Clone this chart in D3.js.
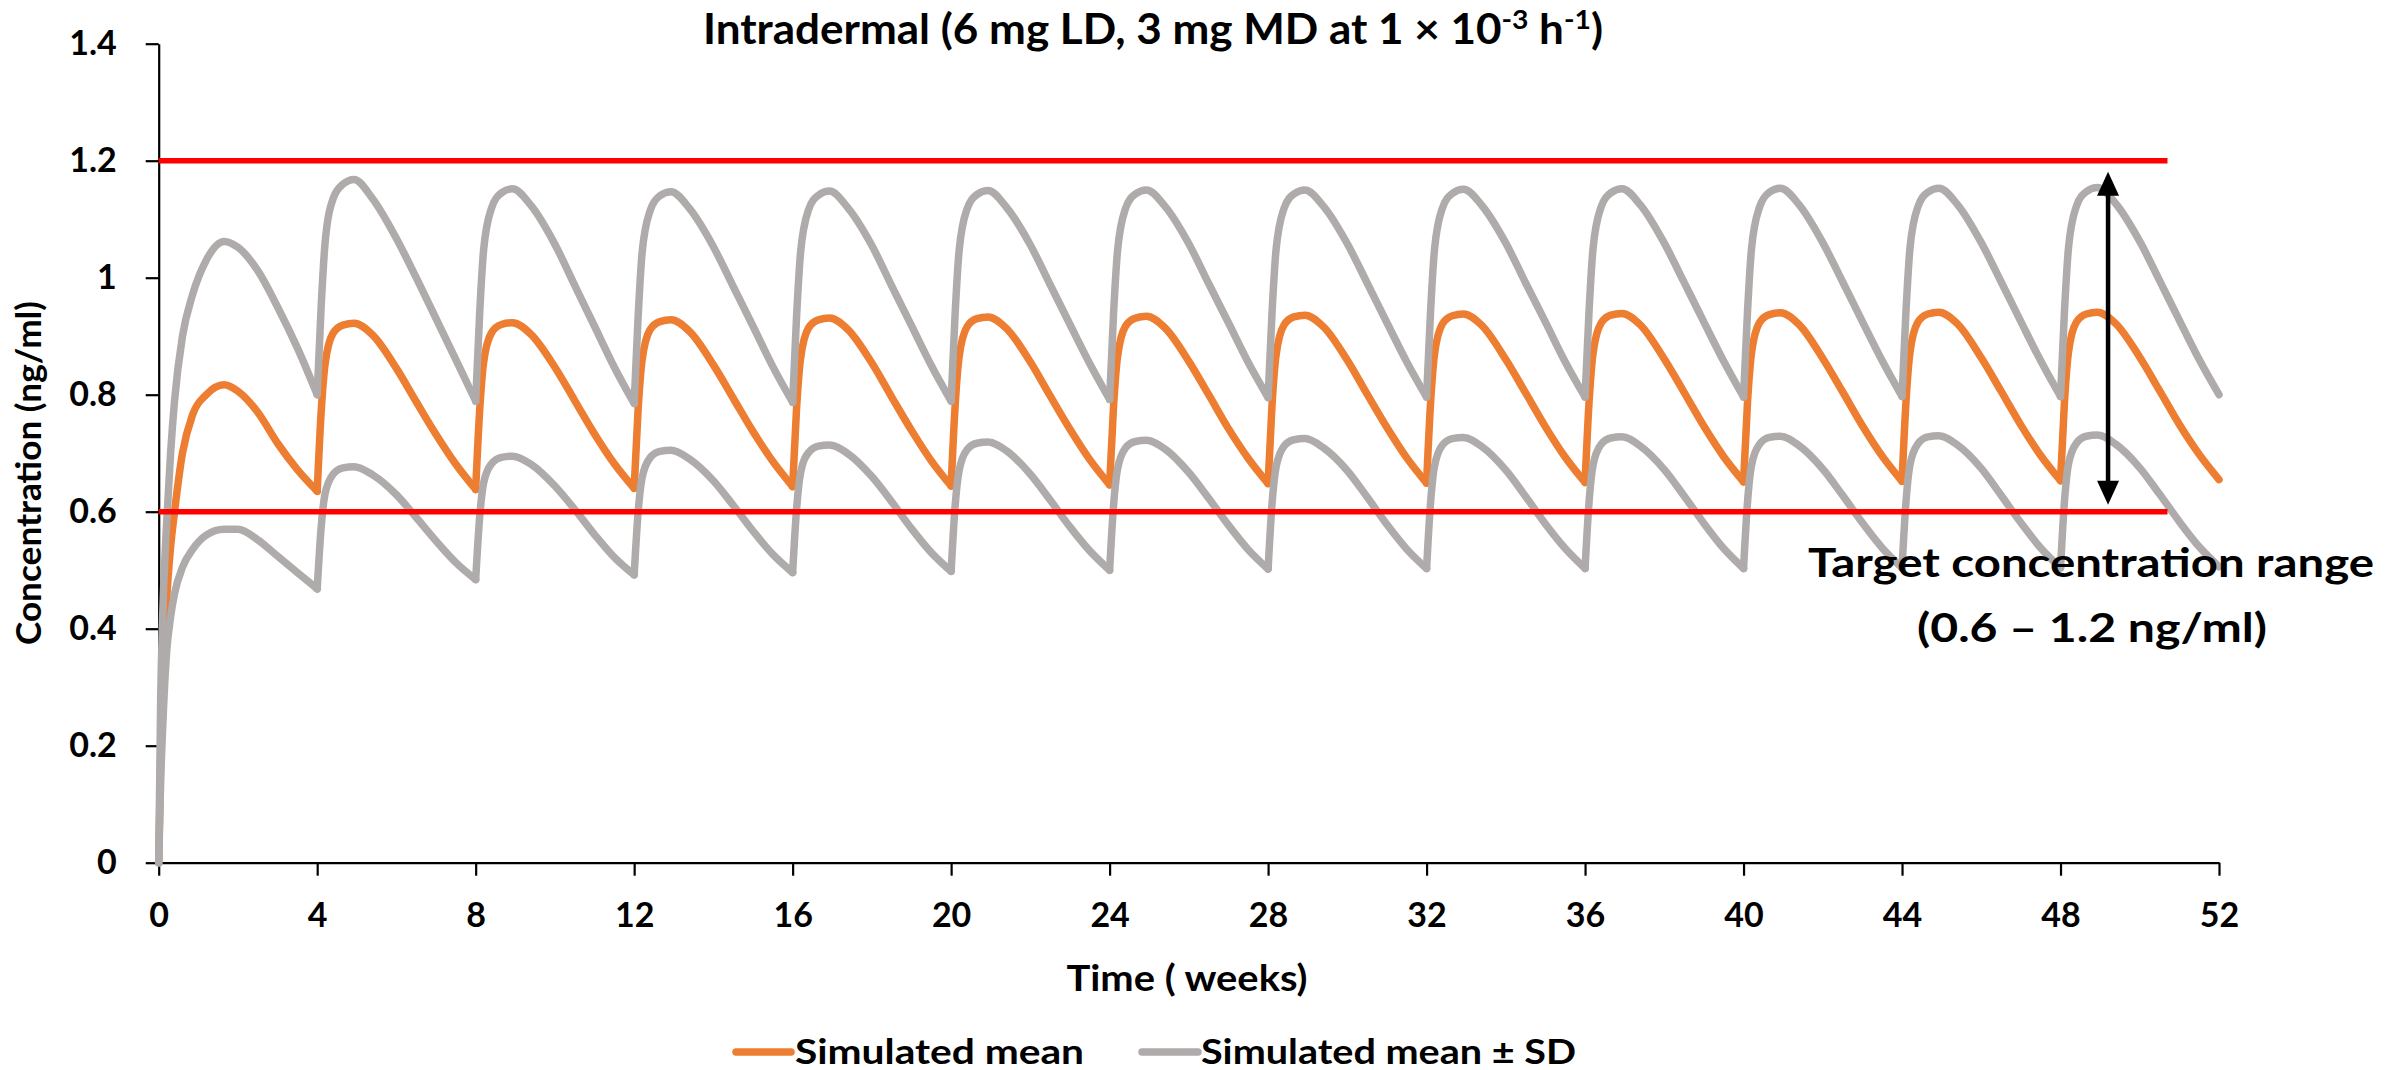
<!DOCTYPE html>
<html lang="en">
<head>
<meta charset="utf-8">
<title>Intradermal simulation</title>
<script src="https://cdn.jsdelivr.net/npm/d3@7"></script>
<style>
  body { margin: 0; background: #fff; }
  svg { display: block; font-family: Lato, 'Open Sans', sans-serif; font-weight: bold; }
</style>
</head>
<body>
<div id="chart"></div>
<script>
// sample times (weeks), one row per dosing interval
const timeWeeks = [
  0, 0.05, 0.1, 0.2, 0.3, 0.4, 0.6, 0.85, 1.2, 1.65, 2, 2.5, 3, 3.5,
  4, 4.1, 4.2, 4.4, 4.65, 4.93, 5.4, 6, 6.5, 7, 7.5,
  8, 8.1, 8.2, 8.4, 8.65, 8.93, 9.4, 10, 10.5, 11, 11.5,
  12, 12.1, 12.2, 12.4, 12.65, 12.93, 13.4, 14, 14.5, 15, 15.5,
  16, 16.1, 16.2, 16.4, 16.65, 16.93, 17.4, 18, 18.5, 19, 19.5,
  20, 20.1, 20.2, 20.4, 20.65, 20.93, 21.4, 22, 22.5, 23, 23.5,
  24, 24.1, 24.2, 24.4, 24.65, 24.93, 25.4, 26, 26.5, 27, 27.5,
  28, 28.1, 28.2, 28.4, 28.65, 28.93, 29.4, 30, 30.5, 31, 31.5,
  32, 32.1, 32.2, 32.4, 32.65, 32.93, 33.4, 34, 34.5, 35, 35.5,
  36, 36.1, 36.2, 36.4, 36.65, 36.93, 37.4, 38, 38.5, 39, 39.5,
  40, 40.1, 40.2, 40.4, 40.65, 40.93, 41.4, 42, 42.5, 43, 43.5,
  44, 44.1, 44.2, 44.4, 44.65, 44.93, 45.4, 46, 46.5, 47, 47.5,
  48, 48.1, 48.2, 48.4, 48.65, 48.93, 49.4, 50, 50.5, 51, 51.5,
  52
];

const meanConc = [
  0, 0.18, 0.30, 0.45, 0.54, 0.60, 0.70, 0.765, 0.80, 0.817, 0.806, 0.77, 0.717, 0.672,
  0.635, 0.770, 0.853, 0.905, 0.919, 0.922, 0.902, 0.845, 0.788, 0.732, 0.681,
  0.638, 0.772, 0.855, 0.906, 0.920, 0.923, 0.903, 0.847, 0.790, 0.733, 0.682,
  0.640, 0.775, 0.859, 0.911, 0.925, 0.928, 0.908, 0.851, 0.794, 0.737, 0.686,
  0.643, 0.778, 0.862, 0.914, 0.928, 0.931, 0.911, 0.854, 0.796, 0.739, 0.687,
  0.644, 0.780, 0.864, 0.916, 0.930, 0.933, 0.913, 0.856, 0.798, 0.741, 0.689,
  0.646, 0.781, 0.865, 0.917, 0.931, 0.934, 0.914, 0.857, 0.800, 0.742, 0.691,
  0.648, 0.783, 0.867, 0.919, 0.933, 0.936, 0.916, 0.859, 0.801, 0.744, 0.692,
  0.649, 0.785, 0.869, 0.921, 0.935, 0.938, 0.918, 0.860, 0.803, 0.745, 0.693,
  0.650, 0.786, 0.870, 0.922, 0.936, 0.939, 0.919, 0.861, 0.804, 0.746, 0.694,
  0.651, 0.787, 0.871, 0.923, 0.937, 0.940, 0.920, 0.862, 0.805, 0.747, 0.695,
  0.652, 0.788, 0.872, 0.924, 0.938, 0.941, 0.921, 0.863, 0.806, 0.748, 0.696,
  0.653, 0.788, 0.872, 0.924, 0.938, 0.941, 0.921, 0.864, 0.807, 0.749, 0.698,
  0.655
];

const upperConc = [
  0, 0.28, 0.42, 0.58, 0.70, 0.79, 0.90, 0.97, 1.03, 1.062, 1.052, 1.012, 0.95, 0.88,
  0.800, 0.950, 1.060, 1.135, 1.160, 1.168, 1.135, 1.067, 1.000, 0.930, 0.860,
  0.789, 0.938, 1.047, 1.119, 1.145, 1.152, 1.123, 1.057, 0.987, 0.917, 0.847,
  0.785, 0.933, 1.042, 1.114, 1.140, 1.147, 1.118, 1.053, 0.985, 0.917, 0.848,
  0.787, 0.935, 1.043, 1.116, 1.141, 1.148, 1.119, 1.055, 0.986, 0.918, 0.850,
  0.789, 0.937, 1.045, 1.117, 1.142, 1.149, 1.120, 1.056, 0.988, 0.920, 0.853,
  0.792, 0.939, 1.046, 1.118, 1.143, 1.150, 1.122, 1.058, 0.990, 0.923, 0.855,
  0.795, 0.941, 1.047, 1.118, 1.143, 1.150, 1.122, 1.058, 0.991, 0.923, 0.856,
  0.796, 0.942, 1.048, 1.119, 1.144, 1.151, 1.123, 1.059, 0.991, 0.924, 0.856,
  0.796, 0.942, 1.049, 1.120, 1.145, 1.152, 1.124, 1.059, 0.992, 0.924, 0.857,
  0.796, 0.942, 1.049, 1.120, 1.146, 1.153, 1.125, 1.060, 0.993, 0.925, 0.858,
  0.797, 0.943, 1.050, 1.121, 1.146, 1.153, 1.125, 1.060, 0.993, 0.925, 0.858,
  0.797, 0.943, 1.050, 1.122, 1.147, 1.154, 1.126, 1.062, 0.995, 0.927, 0.860,
  0.800
];

const lowerConc = [
  0, 0.14, 0.23, 0.36, 0.42, 0.46, 0.505, 0.535, 0.56, 0.57, 0.57, 0.552, 0.524, 0.496,
  0.468, 0.573, 0.631, 0.664, 0.675, 0.677, 0.663, 0.629, 0.590, 0.550, 0.513,
  0.484, 0.590, 0.649, 0.682, 0.693, 0.695, 0.681, 0.644, 0.604, 0.561, 0.522,
  0.492, 0.599, 0.658, 0.692, 0.703, 0.705, 0.690, 0.653, 0.611, 0.567, 0.527,
  0.496, 0.605, 0.666, 0.701, 0.712, 0.714, 0.699, 0.660, 0.617, 0.571, 0.530,
  0.498, 0.609, 0.670, 0.706, 0.717, 0.719, 0.704, 0.664, 0.620, 0.574, 0.533,
  0.500, 0.611, 0.673, 0.709, 0.720, 0.722, 0.707, 0.667, 0.623, 0.577, 0.535,
  0.502, 0.614, 0.676, 0.712, 0.723, 0.725, 0.709, 0.670, 0.625, 0.578, 0.536,
  0.503, 0.615, 0.678, 0.714, 0.725, 0.727, 0.711, 0.671, 0.626, 0.579, 0.537,
  0.503, 0.616, 0.679, 0.715, 0.726, 0.728, 0.712, 0.672, 0.627, 0.580, 0.537,
  0.503, 0.616, 0.679, 0.715, 0.727, 0.729, 0.713, 0.673, 0.628, 0.581, 0.538,
  0.504, 0.617, 0.680, 0.716, 0.728, 0.730, 0.714, 0.674, 0.628, 0.581, 0.538,
  0.504, 0.618, 0.681, 0.717, 0.729, 0.731, 0.715, 0.675, 0.630, 0.583, 0.540,
  0.506
];

const doseWeeks = [0, 4, 8, 12, 16, 20, 24, 28, 32, 36, 40, 44, 48, 52];
const xTicks = [0, 4, 8, 12, 16, 20, 24, 28, 32, 36, 40, 44, 48, 52];
const yTicks = [0, 0.2, 0.4, 0.6, 0.8, 1, 1.2, 1.4];
const yTickLabels = ['0', '0.2', '0.4', '0.6', '0.8', '1', '1.2', '1.4'];
const targetRange = [0.6, 1.2];
const targetLineEndWeek = 50.7;
const arrowWeek = 49.2;
const arrowRange = [0.612, 1.181];
const legendLabels = ['Simulated mean', 'Simulated mean \u00B1 SD'];

const svgWidth = 2399;
const svgHeight = 1070;
const orange = '#ED7D31';
const grey = '#AFABAB';

const svg = d3.select('#chart')
  .append('svg')
  .attr('width', svgWidth)
  .attr('height', svgHeight)
  .style('background-color', 'white');

const xScale = d3.scaleLinear().domain([0, 52]).range([158.7, 2219]);
const yScale = d3.scaleLinear().domain([0, 1.4]).range([862.7, 43.7]);

// axes
const xAxis = d3.axisBottom(xScale)
  .tickValues(xTicks)
  .tickSize(13)
  .tickSizeOuter(0)
  .tickPadding(27)
  .tickFormat(d3.format('d'));

const gx = svg.append('g')
  .attr('transform', `translate(0, ${yScale(0)})`)
  .call(xAxis)
  .attr('font-family', 'Lato, sans-serif')
  .attr('font-size', 34)
  .attr('color', '#000');
gx.selectAll('path, line').attr('stroke-width', 2.2);

const yAxis = d3.axisLeft(yScale)
  .tickValues(yTicks)
  .tickSize(13)
  .tickSizeOuter(0)
  .tickPadding(29)
  .tickFormat((d, i) => yTickLabels[i]);

const gy = svg.append('g')
  .attr('transform', `translate(${xScale(0)}, 0)`)
  .call(yAxis)
  .attr('font-family', 'Lato, sans-serif')
  .attr('font-size', 34)
  .attr('color', '#000');
gy.selectAll('path, line').attr('stroke-width', 2.2);

// series, drawn one dosing interval at a time so troughs stay sharp
const line = d3.line()
  .x(d => xScale(d[0]))
  .y(d => yScale(d[1]))
  .curve(d3.curveMonotoneX);

function drawSeries(values, color) {
  const pts = timeWeeks.map((t, i) => [t, values[i]]);
  const g = svg.append('g');
  for (let i = 0; i < doseWeeks.length - 1; i++) {
    const seg = pts.filter(p => p[0] >= doseWeeks[i] && p[0] <= doseWeeks[i + 1]);
    g.append('path')
      .attr('d', line(seg))
      .attr('fill', 'none')
      .attr('stroke', color)
      .attr('stroke-width', 7.5)
      .attr('stroke-linecap', 'round')
      .attr('stroke-linejoin', 'round');
  }
}

drawSeries(meanConc, orange);
drawSeries(upperConc, grey);
drawSeries(lowerConc, grey);

// target range lines
svg.selectAll('.target')
  .data(targetRange)
  .enter()
  .append('line')
  .attr('class', 'target')
  .attr('x1', xScale(0))
  .attr('x2', xScale(targetLineEndWeek))
  .attr('y1', d => yScale(d))
  .attr('y2', d => yScale(d))
  .attr('stroke', '#FF0000')
  .attr('stroke-width', 5.5);

// double-headed arrow
const ax = xScale(arrowWeek);
const aTop = yScale(arrowRange[1]);
const aBot = yScale(arrowRange[0]);
const headLen = 24;
const headHalf = 11;
svg.append('line')
  .attr('x1', ax).attr('x2', ax)
  .attr('y1', aTop + headLen - 2).attr('y2', aBot - headLen + 2)
  .attr('stroke', '#000')
  .attr('stroke-width', 4.5);
svg.append('path')
  .attr('d', `M${ax},${aTop} L${ax - headHalf},${aTop + headLen} L${ax + headHalf},${aTop + headLen} Z`)
  .attr('fill', '#000');
svg.append('path')
  .attr('d', `M${ax},${aBot} L${ax - headHalf},${aBot - headLen} L${ax + headHalf},${aBot - headLen} Z`)
  .attr('fill', '#000');

// annotation
svg.append('text')
  .attr('x', 2091).attr('y', 577)
  .attr('text-anchor', 'middle')
  .attr('font-size', 41)
  .attr('textLength', 566)
  .attr('lengthAdjust', 'spacingAndGlyphs')
  .text('Target concentration range');
svg.append('text')
  .attr('x', 2092).attr('y', 642)
  .attr('text-anchor', 'middle')
  .attr('font-size', 41)
  .attr('textLength', 350)
  .attr('lengthAdjust', 'spacingAndGlyphs')
  .text('(0.6 \u2013 1.2 ng/ml)');

// title
const title = svg.append('text')
  .attr('x', 703).attr('y', 44)
  .attr('font-size', 42)
  .attr('textLength', 900)
  .attr('lengthAdjust', 'spacingAndGlyphs');
title.append('tspan').text('Intradermal (6 mg LD, 3 mg MD at 1 \u00D7 10');
title.append('tspan').attr('font-size', 27).attr('dy', -15).text('-3');
title.append('tspan').attr('dy', 15).text(' h');
title.append('tspan').attr('font-size', 27).attr('dy', -15).text('-1');
title.append('tspan').attr('dy', 15).text(')');

// axis titles
svg.append('text')
  .attr('x', 1187).attr('y', 991)
  .attr('text-anchor', 'middle')
  .attr('font-size', 36)
  .attr('textLength', 241)
  .attr('lengthAdjust', 'spacingAndGlyphs')
  .text('Time ( weeks)');

svg.append('text')
  .attr('transform', 'translate(41, 473) rotate(-90)')
  .attr('text-anchor', 'middle')
  .attr('font-size', 34)
  .attr('textLength', 344)
  .attr('lengthAdjust', 'spacingAndGlyphs')
  .text('Concentration (ng/ml)');

// legend
const legend = [
  { label: legendLabels[0], color: orange, x1: 736, x2: 791, tx: 795, w: 289 },
  { label: legendLabels[1], color: grey, x1: 1142, x2: 1198, tx: 1201, w: 375 }
];
legend.forEach(d => {
  svg.append('line')
    .attr('x1', d.x1).attr('x2', d.x2)
    .attr('y1', 1052).attr('y2', 1052)
    .attr('stroke', d.color)
    .attr('stroke-width', 7.5)
    .attr('stroke-linecap', 'round');
  svg.append('text')
    .attr('x', d.tx).attr('y', 1064)
    .attr('font-size', 34)
    .attr('textLength', d.w)
    .attr('lengthAdjust', 'spacingAndGlyphs')
    .text(d.label);
});
</script>
</body>
</html>
